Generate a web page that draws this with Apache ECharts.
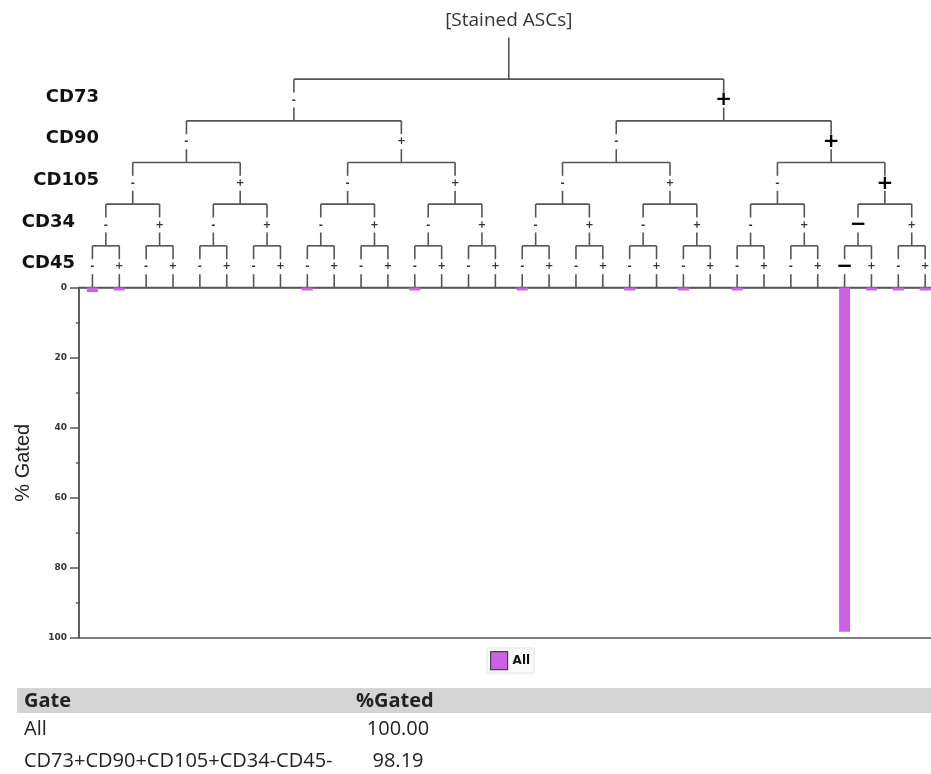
<!DOCTYPE html>
<html>
<head>
<meta charset="utf-8">
<script src="https://cdn.jsdelivr.net/npm/echarts@6/dist/echarts.min.js"></script>
<style>
html,body{margin:0;padding:0;background:#fff;}
#main{width:931px;height:774px;}
</style>
</head>
<body>
<div id="main"></div>
<script>
// ---------------- data ----------------
const rootLabel = '[Stained ASCs]';
const markers = ['CD73', 'CD90', 'CD105', 'CD34', 'CD45'];
const signs = ['-', '+'];
// % Gated for the 32 Boolean gates, in tree (leaf) order, CD73-CD90-CD105-CD34-CD45- first
const gatedValues = [
  1.30, 0.06, 0, 0, 0, 0, 0, 0,
  0.04, 0, 0, 0, 0.05, 0, 0, 0,
  0.05, 0, 0, 0, 0.04, 0, 0.03, 0,
  0.06, 0, 0, 0, 98.19, 0.07, 0.05, 0.06
];
const yTicks = [0, 20, 40, 60, 80, 100];
const seriesName = 'All';
const yAxisName = '% Gated';
const tableHeader = ['Gate', '%Gated'];
const tableGates = ['All', 'CD73+CD90+CD105+CD34-CD45-'];
const tableValues = ['100.00', '98.19'];

// ---------------- derived structure ----------------
const depthMax = markers.length;
const nLeaves = Math.pow(2, depthMax);
const leafNames = [];
for (let i = 0; i < nLeaves; i++) {
  leafNames.push(markers.map((m, k) => m + signs[(i >> (depthMax - 1 - k)) & 1]).join(''));
}
let hiLeaf = 0;
gatedValues.forEach((v, i) => { if (v > gatedValues[hiLeaf]) hiLeaf = i; });

// tree nodes: [x, depth, leftChildX, rightChildX, signBit, highlighted]
const treeNodes = [];
(function build(depth, start) {
  const count = Math.pow(2, depthMax - depth);
  const x = start + count / 2;
  const bit = depth > 0 ? (start >> (depthMax - depth)) & 1 : 0;
  const hl = depth > 0 && hiLeaf >= start && hiLeaf < start + count ? 1 : 0;
  if (depth < depthMax) {
    treeNodes.push([x, depth, start + count / 4, start + 3 * count / 4, bit, hl]);
    build(depth + 1, start);
    build(depth + 1, start + count / 2);
  } else {
    treeNodes.push([x, depth, -1, -1, bit, hl]);
  }
})(0, 0);

// ---------------- chart ----------------
const LINE = '#555';
const plotLeft = 79, plotWidth = 859.6;

function renderTree(params, api) {
  const x = api.value(0), d = api.value(1), xl = api.value(2), xr = api.value(3);
  const bit = api.value(4), hl = api.value(5);
  const children = [];
  const seg = (x1, y1, x2, y2) => {
    const p1 = api.coord([x1, y1]), p2 = api.coord([x2, y2]);
    children.push({type: 'line', shape: {x1: p1[0], y1: p1[1], x2: p2[0], y2: p2[1]},
      style: {stroke: LINE, lineWidth: 1.6}});
  };
  if (d === 0) {
    seg(x, -1, x, 0);
    const p = api.coord([x, -1.4]);
    children.push({type: 'text', x: p[0], y: p[1],
      style: {text: rootLabel, font: '19px "Open Sans"', fill: '#333', align: 'center', verticalAlign: 'middle'}});
  } else {
    const gap = 0.18;
    seg(x, d - 1, x, d - 0.5 - gap);
    seg(x, d - 0.5 + gap, x, d);
    const p = api.coord([x, d - 0.5]);
    children.push({type: 'text', x: p[0], y: p[1],
      style: hl ? {text: bit ? '+' : '\u2212', font: 'bold 20px "DejaVu Sans"', fill: '#000', align: 'center', verticalAlign: 'middle'}
                : {text: signs[bit], font: 'bold 10px "DejaVu Sans"', fill: '#333', align: 'center', verticalAlign: 'middle'}});
  }
  if (d < depthMax) seg(xl, d, xr, d);
  return {type: 'group', children: children};
}

const chart = echarts.init(document.getElementById('main'), null, {renderer: 'canvas'});
chart.setOption({
  animation: false,
  backgroundColor: '#fff',
  grid: [
    {left: plotLeft, top: 287.5, width: plotWidth, height: 350.5, show: true, outerBoundsMode: 'none',
     borderColor: LINE, borderWidth: 1.5, backgroundColor: 'transparent'},
    {left: plotLeft, top: 37.5, width: plotWidth, height: 250, outerBoundsMode: 'none'}
  ],
  legend: {
    data: [seriesName], left: 487, top: 648, icon: 'rect',
    itemWidth: 17, itemHeight: 18, padding: [3, 4, 3, 3],
    backgroundColor: '#fafafa', borderColor: '#e4e4e4', borderWidth: 1,
    itemStyle: {borderColor: '#444', borderWidth: 1.2},
    textStyle: {fontFamily: 'DejaVu Sans', fontWeight: 'bold', fontSize: 12, color: '#111'}
  },
  xAxis: [
    {gridIndex: 0, type: 'category', data: leafNames,
     axisLine: {show: true, lineStyle: {color: LINE, width: 1.5}},
     axisTick: {show: false}, axisLabel: {show: false}, splitLine: {show: false}},
    {gridIndex: 1, type: 'value', min: 0, max: nLeaves, show: false, splitLine: {show: false}}
  ],
  yAxis: [
    {gridIndex: 0, type: 'value', inverse: true,
     min: yTicks[0], max: yTicks[yTicks.length - 1], interval: yTicks[1] - yTicks[0],
     name: yAxisName, nameLocation: 'middle', nameGap: 46,
     nameTextStyle: {fontFamily: 'Liberation Sans', fontSize: 20, color: '#222'},
     axisLine: {show: true, lineStyle: {color: LINE, width: 1.5}},
     axisTick: {show: true, length: 9, lineStyle: {color: LINE, width: 1.5}},
     minorTick: {show: true, splitNumber: 2, length: 3, lineStyle: {color: LINE, width: 1.5}},
     axisLabel: {margin: 12, fontFamily: 'DejaVu Sans', fontWeight: 'bold', fontSize: 9, color: '#333'},
     splitLine: {show: false}},
    {gridIndex: 1, type: 'category', inverse: true, data: [''].concat(markers),
     axisLine: {show: false}, axisTick: {show: false}, splitLine: {show: false},
     axisLabel: {
       margin: -20,
       formatter: function (v, i) { return i >= 4 ? '{deep|' + v + '}' : '{top|' + v + '}'; },
       rich: {
         top: {fontFamily: 'DejaVu Sans', fontWeight: 'bold', fontSize: 18, color: '#111', padding: [0, 0, 6, 0]},
         deep: {fontFamily: 'DejaVu Sans', fontWeight: 'bold', fontSize: 18, color: '#111', padding: [0, 24, 6, 0]}
       }
     }},
    {gridIndex: 1, type: 'value', inverse: true, min: -1, max: depthMax, show: false, splitLine: {show: false}}
  ],
  series: [
    {type: 'bar', name: seriesName, xAxisIndex: 0, yAxisIndex: 0,
     data: gatedValues.map(v => (v > 0 ? v : null)),
     barWidth: 11, barMinHeight: 3,
     itemStyle: {color: '#cc62e3'}},
    {type: 'custom', name: 'tree', xAxisIndex: 1, yAxisIndex: 2, clip: false,
     renderItem: renderTree, data: treeNodes, silent: true}
  ],
  graphic: [
    {type: 'rect', shape: {x: 17, y: 688, width: 914, height: 25}, style: {fill: '#d4d4d4'}},
    {type: 'text', x: 24, y: 701, style: {text: tableHeader[0], font: 'bold 20px "Open Sans"', fill: '#222', verticalAlign: 'middle'}},
    {type: 'text', x: 356, y: 701, style: {text: tableHeader[1], font: 'bold 20px "Open Sans"', fill: '#222', verticalAlign: 'middle'}},
    {type: 'text', x: 24, y: 729, style: {text: tableGates[0], font: '20px "Open Sans"', fill: '#222', verticalAlign: 'middle'}},
    {type: 'text', x: 398, y: 729, style: {text: tableValues[0], font: '20px "Open Sans"', fill: '#222', align: 'center', verticalAlign: 'middle'}},
    {type: 'text', x: 24, y: 761, style: {text: tableGates[1], font: '20px "Open Sans"', fill: '#222', verticalAlign: 'middle'}},
    {type: 'text', x: 398, y: 761, style: {text: tableValues[1], font: '20px "Open Sans"', fill: '#222', align: 'center', verticalAlign: 'middle'}}
  ]
});
</script>
</body>
</html>
